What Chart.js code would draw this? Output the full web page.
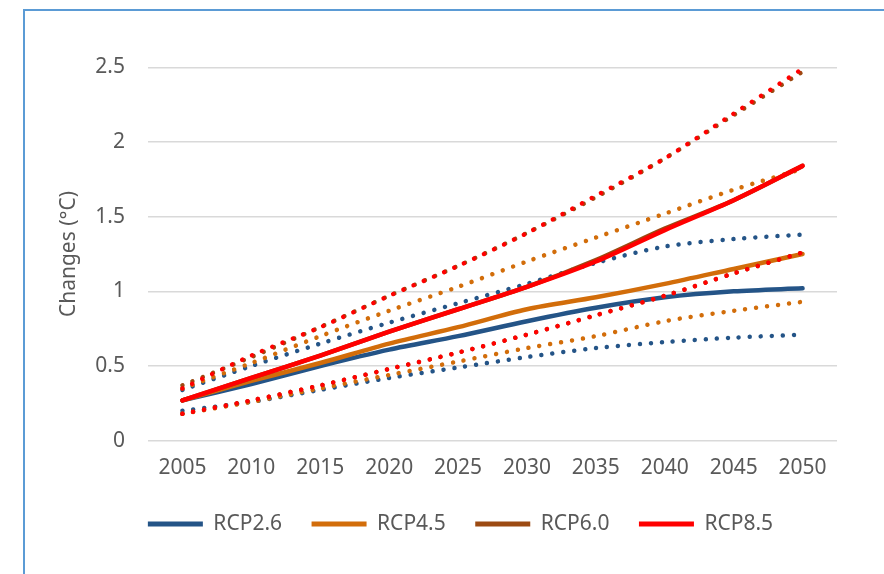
<!DOCTYPE html>
<html><head><meta charset="utf-8">
<script src="https://cdn.jsdelivr.net/npm/chart.js@4.4.0/dist/chart.umd.min.js"></script>
<style>
html,body{margin:0;padding:0;background:#fff;}
#wrap{position:relative;width:884px;height:574px;overflow:hidden;}
#frame{position:absolute;left:23px;top:9px;right:-10px;bottom:-10px;border-left:2px solid #5B9BD5;border-top:2px solid #5B9BD5;}
canvas{position:absolute;left:0;top:0;}
</style></head><body>
<div id="wrap"><div id="frame"></div><canvas id="c" width="884" height="574"></canvas></div>
<script>
const years = ['2005','2010','2015','2020','2025','2030','2035','2040','2045','2050'];
const yTicks = [0, 0.5, 1, 1.5, 2, 2.5];

const rcp26    = [0.27, 0.38, 0.50, 0.61, 0.70, 0.80, 0.89, 0.96, 1.00, 1.02];
const rcp26Max = [0.34, 0.50, 0.65, 0.79, 0.92, 1.05, 1.19, 1.30, 1.35, 1.38];
const rcp26Min = [0.20, 0.26, 0.34, 0.42, 0.49, 0.56, 0.62, 0.66, 0.69, 0.71];
const rcp45    = [0.27, 0.40, 0.52, 0.65, 0.76, 0.88, 0.96, 1.05, 1.15, 1.25];
const rcp45Max = [0.35, 0.52, 0.70, 0.87, 1.03, 1.20, 1.36, 1.52, 1.68, 1.82];
const rcp45Min = [0.18, 0.26, 0.35, 0.44, 0.53, 0.62, 0.70, 0.80, 0.87, 0.93];
const rcp60    = [0.27, 0.42, 0.57, 0.73, 0.88, 1.03, 1.21, 1.42, 1.61, 1.84];
const rcp60Max = [0.37, 0.56, 0.76, 0.97, 1.17, 1.39, 1.63, 1.89, 2.18, 2.47];
const rcp60Min = [0.18, 0.27, 0.37, 0.48, 0.59, 0.71, 0.84, 0.97, 1.12, 1.26];
const rcp85    = [0.27, 0.42, 0.57, 0.73, 0.88, 1.03, 1.20, 1.41, 1.61, 1.84];
const rcp85Max = [0.35, 0.57, 0.76, 0.97, 1.17, 1.39, 1.64, 1.89, 2.19, 2.49];
const rcp85Min = [0.18, 0.27, 0.37, 0.48, 0.59, 0.71, 0.84, 0.97, 1.12, 1.26];

const C26 = '#245487', C45 = '#D26D0A', C60 = '#9C4A12', C85 = '#FF0000';
const TXT = '#595959';
const FONT = {family: '"Noto Sans", sans-serif', size: 21};

const series = [
  ['RCP2.6', rcp26, C26, false], ['RCP2.6 max', rcp26Max, C26, true], ['RCP2.6 min', rcp26Min, C26, true],
  ['RCP4.5', rcp45, C45, false], ['RCP4.5 max', rcp45Max, C45, true], ['RCP4.5 min', rcp45Min, C45, true],
  ['RCP6.0', rcp60, C60, false], ['RCP6.0 max', rcp60Max, C60, true], ['RCP6.0 min', rcp60Min, C60, true],
  ['RCP8.5', rcp85, C85, false], ['RCP8.5 max', rcp85Max, C85, true], ['RCP8.5 min', rcp85Min, C85, true]
];
const datasets = series.map((s, i) => ({
  label: s[0], data: s[1], borderColor: s[2], backgroundColor: s[2],
  borderWidth: 4.5,
  borderDash: s[3] ? [0.01, 11] : [],
  borderCapStyle: 'round', borderJoinStyle: 'round',
  pointRadius: 0, pointHoverRadius: 0, tension: 0.3, fill: false,
  order: series.length - i, inLegend: !s[3]
}));

const legendShift = {
  id: 'legendShift',
  afterLayout(chart) { const l = chart.legend; if (l) { l.left += 42; l.right += 42; } }
};

new Chart(document.getElementById('c'), {
  type: 'line',
  data: {labels: years, datasets},
  plugins: [legendShift],
  options: {
    responsive: false, animation: false, devicePixelRatio: 1,
    layout: {padding: {left: 0, right: 47, top: 67.3, bottom: 29.5}},
    plugins: {
      tooltip: {enabled: false},
      legend: {
        position: 'bottom',
        labels: {
          font: FONT, color: TXT, boxWidth: 55, boxHeight: 5, padding: 29.5,
          useBorderRadius: true, borderRadius: 2.5,
          generateLabels(chart) {
            return chart.data.datasets.map((d, i) => ({
              text: d.label, fillStyle: d.borderColor, strokeStyle: d.borderColor,
              lineWidth: 0, hidden: false, datasetIndex: i, fontColor: TXT
            })).filter(it => chart.data.datasets[it.datasetIndex].inLegend);
          }
        }
      }
    },
    scales: {
      x: {
        offset: true,
        grid: {display: false, drawTicks: false},
        border: {display: false},
        ticks: {font: FONT, color: TXT, padding: 14.7, maxRotation: 0, autoSkip: false},
        afterFit(s) { s.height = 43.3; }
      },
      y: {
        min: 0, max: 2.5,
        afterBuildTicks(s) { s.ticks = yTicks.map(v => ({value: v})); },
        grid: {color: '#D9D9D9', lineWidth: 1.5, drawTicks: false},
        border: {display: false},
        ticks: {font: FONT, color: TXT, padding: 23, callback: v => String(v)},
        title: {display: true, text: 'Changes (°C)', font: FONT, color: TXT, padding: {top: 56, bottom: 0}},
        afterFit(s) { s.width = 148; }
      }
    }
  }
});
</script>
</body></html>
